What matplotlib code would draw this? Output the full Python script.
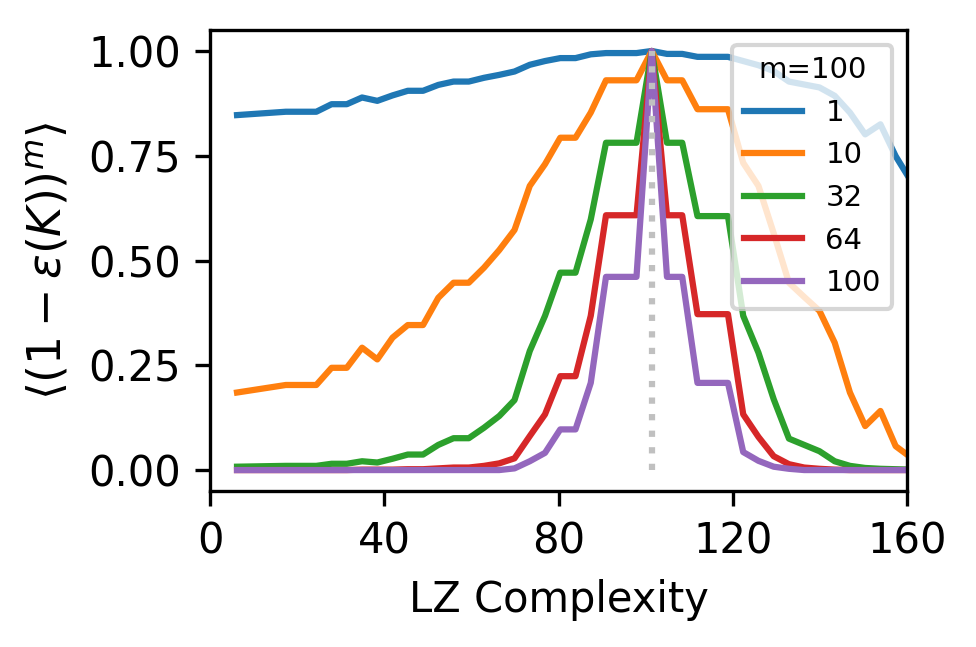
import numpy as np
import matplotlib
matplotlib.use("Agg")
import matplotlib.pyplot as plt

# LZ complexity values (x) and mean survival <(1-eps(K))^m> for each m
K = [6.2, 17.4, 24.4, 27.9, 31.4, 34.9, 38.4, 41.9, 45.4, 48.9, 52.4, 55.9, 59.4, 62.9,
     66.4, 69.9, 73.4, 76.9, 80.4, 83.9, 87.4, 90.9, 94.4, 97.9, 101.4, 104.9, 108.4,
     111.9, 115.4, 118.9, 122.4, 125.9, 129.4, 132.9, 136.4, 139.9, 143.4, 146.9,
     150.4, 153.9, 157.4, 160.9]

m_values = [1, 10, 32, 64, 100]

y_m1 = [0.847, 0.855, 0.855, 0.873, 0.873, 0.889, 0.881, 0.894, 0.905, 0.905, 0.919,
        0.927, 0.927, 0.936, 0.943, 0.951, 0.967, 0.976, 0.983, 0.983, 0.992, 0.995,
        0.995, 0.995, 1.0, 0.993, 0.993, 0.986, 0.986, 0.986, 0.976, 0.966, 0.952,
        0.927, 0.920, 0.913, 0.893, 0.853, 0.801, 0.825, 0.749, 0.69]
y_m10 = [0.185, 0.203, 0.203, 0.244, 0.244, 0.292, 0.264, 0.316, 0.346, 0.346, 0.411,
         0.447, 0.447, 0.483, 0.525, 0.573, 0.678, 0.730, 0.793, 0.793, 0.853, 0.930,
         0.930, 0.930, 1.0, 0.930, 0.930, 0.861, 0.861, 0.861, 0.733, 0.678, 0.565,
         0.447, 0.413, 0.380, 0.304, 0.185, 0.105, 0.141, 0.057, 0.030]
y_m32 = [0.008, 0.010, 0.010, 0.015, 0.015, 0.021, 0.018, 0.027, 0.037, 0.037, 0.060,
         0.076, 0.076, 0.101, 0.129, 0.167, 0.284, 0.368, 0.471, 0.471, 0.598, 0.781,
         0.781, 0.781, 1.0, 0.781, 0.781, 0.606, 0.606, 0.606, 0.368, 0.280, 0.169,
         0.075, 0.060, 0.045, 0.021, 0.010, 0.005, 0.003, 0.002, 0.001]
y_m64 = [0.0, 0.0, 0.0, 0.0, 0.0, 0.001, 0.001, 0.001, 0.002, 0.002, 0.004, 0.006,
         0.006, 0.010, 0.016, 0.028, 0.081, 0.133, 0.224, 0.224, 0.368, 0.608, 0.608,
         0.608, 1.0, 0.608, 0.608, 0.372, 0.372, 0.372, 0.133, 0.079, 0.033, 0.014,
         0.006, 0.003, 0.001, 0.0, 0.0, 0.0, 0.0, 0.0]
y_m100 = [0.0, 0.0, 0.0, 0.0, 0.0, 0.0, 0.0, 0.0, 0.0, 0.0, 0.0, 0.0, 0.0, 0.0, 0.0,
          0.004, 0.021, 0.041, 0.097, 0.097, 0.208, 0.461, 0.461, 0.461, 1.0, 0.461,
          0.461, 0.208, 0.208, 0.208, 0.043, 0.022, 0.008, 0.003, 0.0, 0.0, 0.0, 0.0,
          0.0, 0.0, 0.0, 0.0]

K_peak = 101.4

fig = plt.figure(figsize=(976 / 300, 647 / 300), dpi=300)
ax = fig.add_axes([0.2152, 0.2411, 0.7141, 0.7125])

for m, y in zip(m_values, [y_m1, y_m10, y_m32, y_m64, y_m100]):
    ax.plot(K, y, lw=1.5, label=str(m))

ax.vlines(K_peak, 0, 1, colors="silver", linestyles=":", lw=1.5)

ax.set_xlim(0, 160)
ax.set_ylim(-0.05, 1.05)
ax.set_xticks([0, 40, 80, 120, 160])
ax.set_yticks([0, 0.25, 0.5, 0.75, 1.0])
ax.set_yticklabels(["0.00", "0.25", "0.50", "0.75", "1.00"])
ax.tick_params(labelsize=10)
ax.set_xlabel("LZ Complexity", fontsize=10)
ax.set_ylabel(r"$\langle(1-\varepsilon(K))^m\rangle$", fontsize=11)
ax.legend(title="m=100", fontsize=7, title_fontsize=7, loc="upper right")

fig.savefig("out.png", dpi=300)
